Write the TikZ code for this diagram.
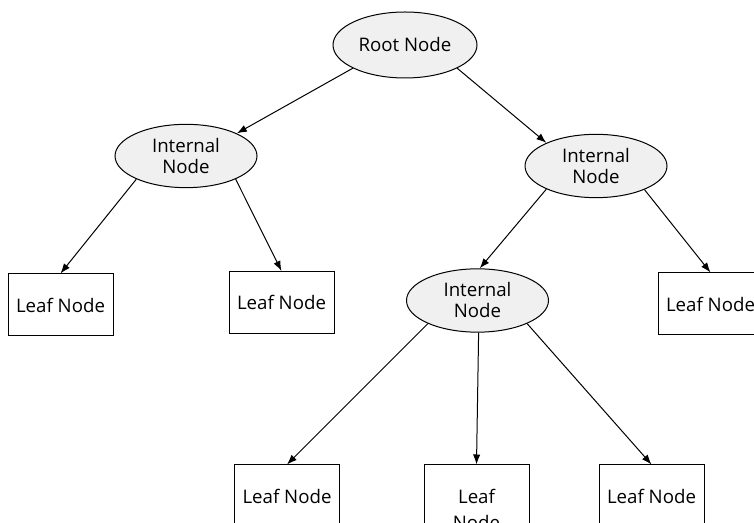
\documentclass[tikz,border=0pt]{standalone}
\usepackage{fontspec}
\setmainfont{Open Sans}
\usetikzlibrary{shapes.geometric,arrows.meta}
\definecolor{nodefill}{RGB}{240,240,240}
\tikzset{
  inner/.style={ellipse, draw=black, line width=0.75pt, fill=nodefill, inner sep=0pt,
    minimum width=106.5pt, minimum height=47.5pt, align=center,
    font=\fontsize{14}{15.75}\selectfont},
  leaf/.style={rectangle, draw=black, line width=0.75pt, fill=white, inner sep=0pt,
    minimum width=78.75pt, minimum height=46.5pt, align=center,
    font=\fontsize{14}{19.5}\selectfont},
  conn/.style={draw=black, line width=0.75pt, -{Latex[length=7.5pt,width=5.5pt]}}
}
\begin{document}
\begin{tikzpicture}[x=0.75pt,y=-0.75pt]
\useasboundingbox (0,0) rectangle (754,523);
\clip (0,0) rectangle (754,523);
\fill[white] (0,0) rectangle (754,523);
\node[inner, minimum width=108pt, minimum height=49.5pt] (root) at (405,45) {Root Node};
\node[inner] (int1) at (186,156) {Internal\\Node};
\node[inner] (int2) at (596,166) {Internal\\Node};
\node[inner] (int3) at (477.5,300.5) {Internal\\Node};
\node[leaf] (l1) at (60.5,305) {Leaf Node};
\node[leaf] (l2) at (281.5,302.5) {Leaf Node};
\node[leaf] (l3) at (710.5,304) {Leaf Node};
\node[leaf] (b1) at (287,496) {Leaf Node};
\node[leaf, minimum height=66pt] (b2) at (476.5,509) {Leaf\\Node};
\node[leaf] (b3) at (651.5,496) {Leaf Node};
\draw[conn] (root.-156) -- (int1.24);
\draw[conn] (root.-24) -- (int2.155);
\draw[conn] (int1.-155) -- (l1.north);
\draw[conn] (int1.-25) -- (l2.north);
\draw[conn] (int2.-155) -- (int3.86);
\draw[conn] (int2.-26) -- (l3.north);
\draw[conn] (int3.-155) -- (b1.north);
\draw[conn] (int3.-88) -- (b2.north);
\draw[conn] (int3.-25) -- (b3.north);
\end{tikzpicture}
\end{document}
